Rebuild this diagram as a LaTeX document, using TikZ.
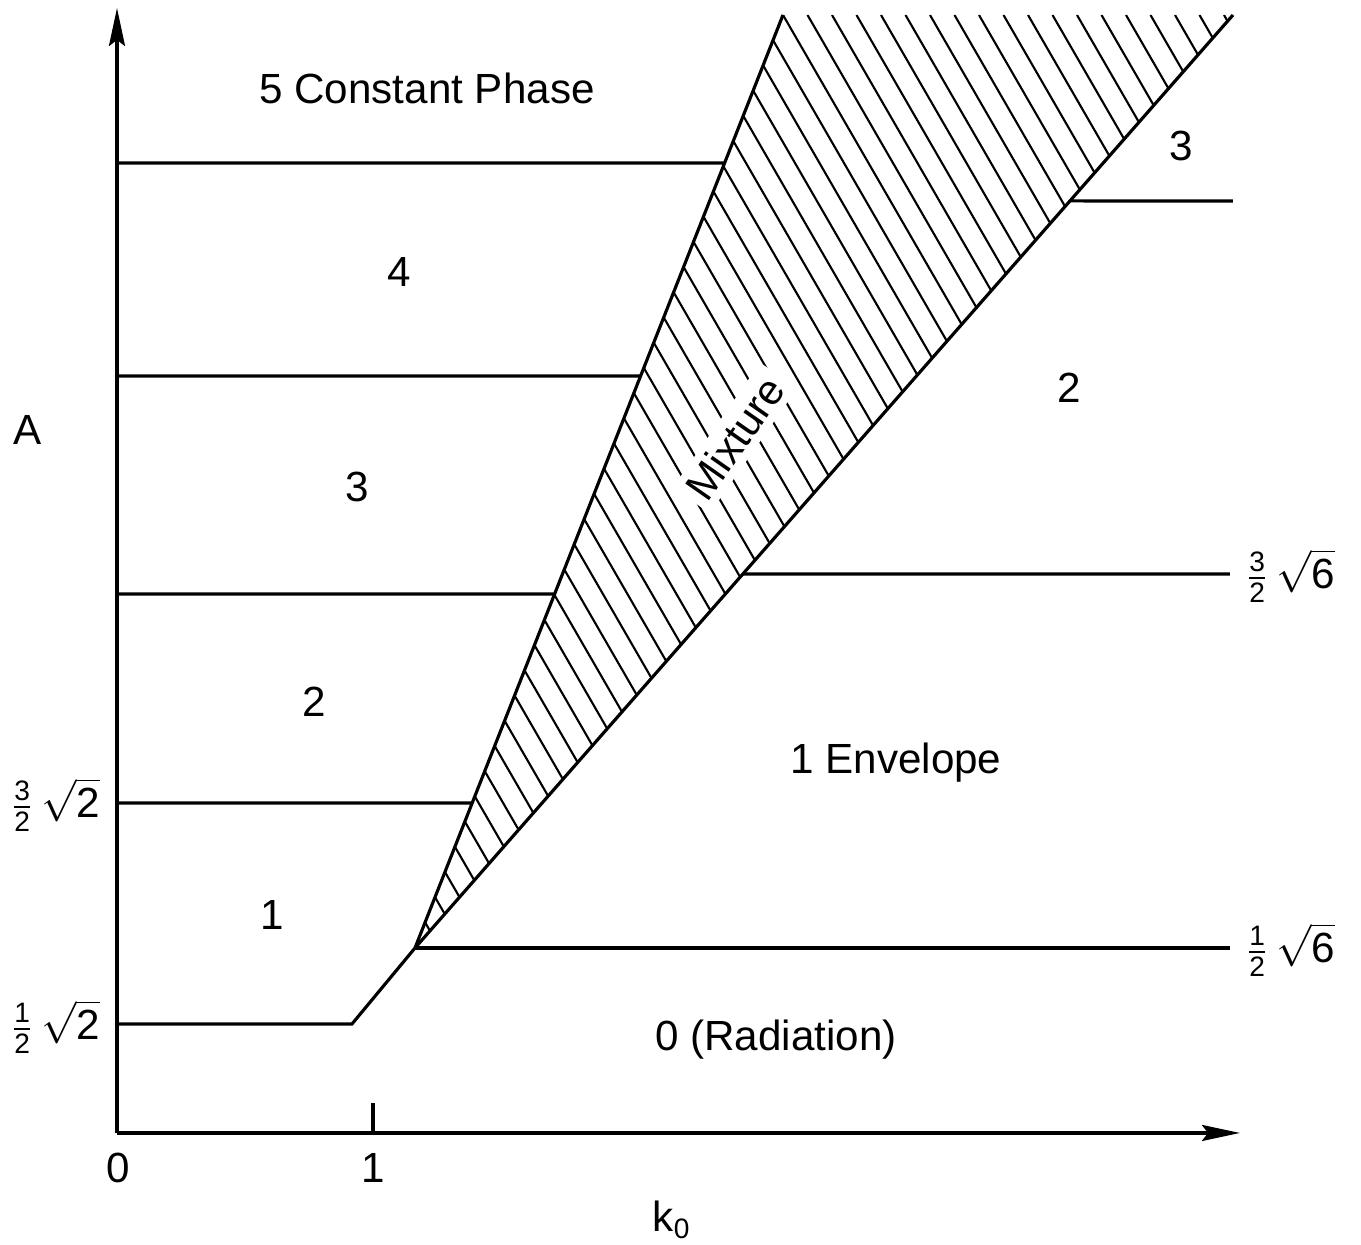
\documentclass[tikz,border=0pt]{standalone}
\usepackage{fontspec}
\setmainfont{Liberation Sans}
\usepackage{amsmath}
\usetikzlibrary{arrows.meta}

\begin{document}
\begin{tikzpicture}[x=1cm, y=1cm, line width=.9pt,
		lbl/.style={font=\fontsize{12}{14}\selectfont, inner sep=0pt},
		hatch/.style={line width=.6pt},
		axisarrow/.style={-{Stealth[length=3.8mm, width=1.6mm, inset=.6mm]}}]
	\useasboundingbox (-1.17,-1.12) rectangle (12.44,11.33);
	\coordinate (O) at (0,0);
	\coordinate (bend) at (2.35,1.09);
	\coordinate (tip) at (2.98,1.85);
	\coordinate (upE) at (6.66,11.18);
	\coordinate (lowE) at (11.16,11.18);
	\begin{scope}
		\clip (tip) -- (upE) -- (lowE) -- cycle;
		\foreach \i in {-37,...,19}{
				\draw[hatch] (6.66 + .245*\i, 11.18) -- ++(7,-12.12);
			}
	\end{scope}
	\draw[axisarrow] (O) -- (0,11.25) coordinate (Ytop);
	\draw[axisarrow] (O) -- (11.23,0) coordinate (Xend);
	\draw (2.56,0) coordinate (tick) -- (2.56,.30);
	\draw (0,1.09) -- (bend) -- (tip) -- (upE);
	\draw (tip) -- (lowE);
	\draw (tip) -- (11.13,1.85);
	\foreach \lev in {3.30, 5.39, 7.57, 9.70}{
			\draw (0,\lev) -- (intersection of tip--upE and 0,\lev--1,\lev);
		}
	\foreach \lev/\xend in {5.59/11.13, 9.32/11.16}{
			\draw (intersection of tip--lowE and 0,\lev--1,\lev) -- (\xend,\lev);
		}
	\node[lbl] (zero) at (0.01,-.35) {0};
	\node[lbl] (one) at (tick |- 0,-.35) {1};
	\node[lbl] (k) at (5.55,-.87) {k\textsubscript{0}};
	\node[lbl] (A) at (-.89,7.03) {A};
	\node[lbl] (lA) at (-.62,3.28) {$\frac{\text{3}}{\text{2}}\,\sqrt{\text{2}}$};
	\node[lbl] (lB) at (-.62,1.06) {$\frac{\text{1}}{\text{2}}\,\sqrt{\text{2}}$};
	\node[lbl] (rA) at (11.73,5.57) {$\frac{\text{3}}{\text{2}}\,\sqrt{\text{6}}$};
	\node[lbl] (rB) at (11.73,1.83) {$\frac{\text{1}}{\text{2}}\,\sqrt{\text{6}}$};
	\node[lbl] (c5) at (3.10,10.45) {5 Constant Phase};
	\node[lbl] (c4) at (2.82,8.61) {4};
	\node[lbl] (c3) at (2.40,6.46) {3};
	\node[lbl] (c2) at (1.97,4.31) {2};
	\node[lbl] (c1) at (1.55,2.18) {1};
	\node[lbl] (e3) at (10.64,9.87) {3};
	\node[lbl] (e2) at (9.52,7.45) {2};
	\node[lbl] (e1) at (7.79,3.70) {1 Envelope};
	\node[lbl] (e0) at (6.59,0.93) {0 (Radiation)};
	\node[lbl, fill=white, inner sep=2pt, rotate=55] (mix) at (6.18,6.95) {Mixture};
\end{tikzpicture}
\end{document}
